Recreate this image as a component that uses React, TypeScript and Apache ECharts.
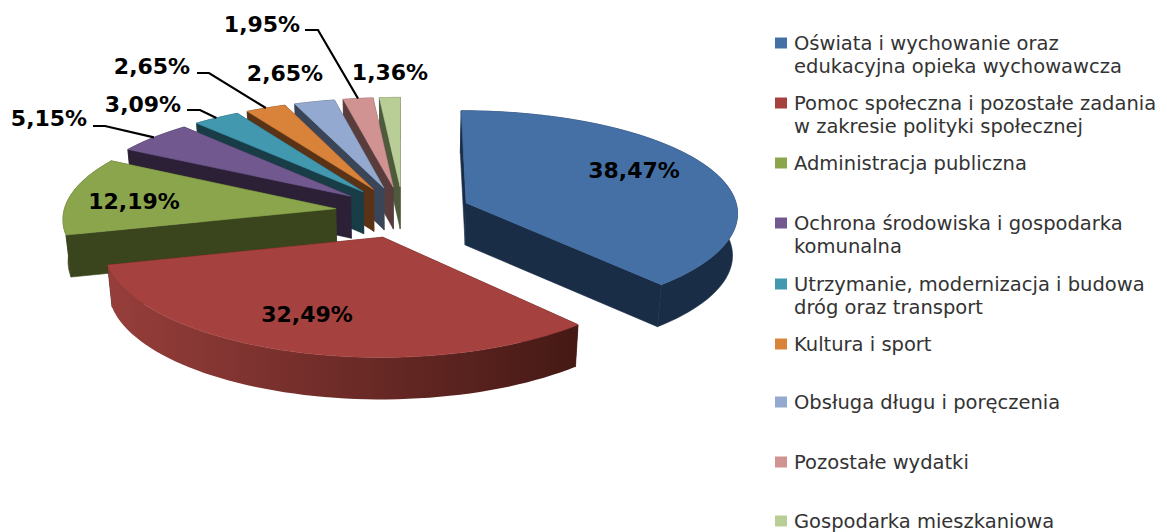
import React, { useEffect, useRef } from "react";
import * as echarts from "echarts";

// ---- data ----
const categories = [
  "Oświata i wychowanie oraz\nedukacyjna opieka wychowawcza",
  "Pomoc społeczna i pozostałe zadania\nw zakresie polityki społecznej",
  "Administracja publiczna",
  "Ochrona środowiska i gospodarka\nkomunalna",
  "Utrzymanie, modernizacja i budowa\ndróg oraz transport",
  "Kultura i sport",
  "Obsługa długu i poręczenia",
  "Pozostałe wydatki",
  "Gospodarka mieszkaniowa",
];
const shares = [38.47, 32.49, 12.19, 5.15, 3.09, 2.65, 2.65, 1.95, 1.36];

// ---- style ----
const topColors = ["#4470A6", "#A5423F", "#8AA54C", "#71588F", "#4198AF", "#D8823A", "#93A9CF", "#D19392", "#B9CD96"];
const wallColors = ["#1A2D47", "#451915", "#3A451D", "#2C2036", "#183D47", "#5A3317", "#3B4558", "#593D3C", "#4E5A3C"];
const wallLightColors = ["#1A2D47", "#973E3B", "#3A451D", "#2C2036", "#183D47", "#5A3317", "#3B4558", "#593D3C", "#4E5A3C"];

// ---- layout: a small perspective model of the exploded pie ----
const CX = 403;
const CY = 212;
const RX = 272;
const RY = 103;
const EXPLODE = 0.25;
const PERSPECTIVE_X = 0.085;
const PERSPECTIVE_Y = 0.0987;
const DEPTH = 42;
const DEPTH_SHRINK = 0.985;
const ARC_STEPS = 90;

// label centre in pixels, and for those with a leader the elbow of the line
const labelCentres = [[634, 170], [307, 314], [134, 201], [49, 118], [143, 104], [152, 66], [285, 73], [262, 24], [390, 72]];
const leaderElbows: (null | number[][])[] = [
  null, null, null,
  [[93, 126], [105, 126]],
  [[187, 110], [200, 110]],
  [[197, 73], [209, 73]],
  null,
  [[305, 30], [318, 30]],
  null,
];
const legendLeft = 775;
const legendFirstLineY = [43, 103, 163, 223, 284, 344, 402, 462, 521];
const LINE_HEIGHT = 23;
const LABEL_FONT = "DejaVu Sans";
const LEGEND_FONT = "DejaVu Sans";

const total = shares.reduce((a, b) => a + b, 0);
const startAngles: number[] = [];
shares.reduce((acc, v, i) => {
  startAngles[i] = acc;
  return acc + (v / total) * Math.PI * 2;
}, 0);
const midAngle = (i: number) => startAngles[i] + (shares[i] / total) * Math.PI;

function project(u: number, v: number): number[] {
  const kx = 1 / (1 - PERSPECTIVE_X * v);
  const ky = 1 / (1 - PERSPECTIVE_Y * v);
  return [CX + RX * u * kx, CY + RY * v * ky];
}
function slicePoint(mid: number, angle: number, r: number): number[] {
  const u = EXPLODE * Math.sin(mid) + r * Math.sin(angle);
  const v = -EXPLODE * Math.cos(mid) - r * Math.cos(angle);
  return project(u, v);
}
const down = (p: number[]) => [CX + (p[0] - CX) * DEPTH_SHRINK, p[1] + DEPTH];

function percentText(v: number): string {
  return v.toFixed(2).replace(".", ",") + "%";
}

function renderSlice(i: number) {
  const a0 = startAngles[i];
  const sweep = (shares[i] / total) * Math.PI * 2;
  const mid = midAngle(i);
  const apex = slicePoint(mid, 0, 0);
  const arc: number[][] = [];
  const steps = Math.max(6, Math.round((ARC_STEPS * sweep) / Math.PI));
  for (let s = 0; s <= steps; s++) {
    arc.push(slicePoint(mid, a0 + (sweep * s) / steps, 1));
  }
  const first = arc[0];
  const last = arc[arc.length - 1];
  const wall = wallColors[i];
  const poly = (points: number[][], fill: any, stroke: string) => ({
    type: "polygon",
    shape: { points },
    style: { fill, stroke, lineWidth: 0.6 },
  });
  const children: any[] = [
    poly([apex, first, down(first), down(apex)], wall, wall),
    poly([apex, last, down(last), down(apex)], wall, wall),
    poly(
      [...arc, ...arc.slice().reverse().map(down)],
      new echarts.graphic.LinearGradient(0, 0, 1, 0, [
        { offset: 0, color: wallLightColors[i] },
        { offset: 1, color: wall },
      ]),
      wall === wallLightColors[i] ? wall : "transparent"
    ),
    poly([apex, ...arc], topColors[i], topColors[i]),
  ];
  const elbow = leaderElbows[i];
  if (elbow) {
    children.push({
      type: "polyline",
      shape: { points: [...elbow, slicePoint(mid, mid, 1)] },
      style: { fill: "none", stroke: "#000", lineWidth: 2.2 },
    });
  }
  children.push({
    type: "text",
    style: {
      text: percentText(shares[i]),
      x: labelCentres[i][0],
      y: labelCentres[i][1],
      align: "center",
      verticalAlign: "middle",
      fill: "#000",
      font: `bold 22px "${LABEL_FONT}"`,
    },
  });
  return { type: "group", children };
}

export default function App() {
  const ref = useRef<HTMLDivElement>(null);
  useEffect(() => {
    const chart = echarts.init(ref.current!, undefined, { renderer: "svg" });
    chart.setOption({
      animation: false,
      backgroundColor: "#fff",
      legend: categories.map((name, i) => {
        const lines = name.split("\n").length;
        // a blank first line puts the icon, centred on the text, beside the first real line
        const boxHeight = LINE_HEIGHT * (lines > 1 ? 3 : 1);
        return {
          data: [name],
          left: legendLeft,
          top: legendFirstLineY[i] - boxHeight / 2,
          padding: 0,
          icon: "rect",
          itemWidth: 12,
          itemHeight: 11,
          itemGap: 0,
          selectedMode: false,
          formatter: (n: string) => (lines > 1 ? "\n" + n : n),
          textStyle: {
            fontFamily: LEGEND_FONT,
            fontSize: 19.5,
            lineHeight: LINE_HEIGHT,
            color: "#333",
            padding: [0, 0, 0, 2],
          },
        };
      }),
      series: categories.map((name, i) => ({
        type: "custom",
        name,
        coordinateSystem: "none",
        silent: true,
        // back slices first, the front ones on top
        z: 5 - Math.cos(midAngle(i)),
        itemStyle: { color: topColors[i] },
        data: [shares[i]],
        renderItem: () => renderSlice(i),
      })),
    });
    return () => chart.dispose();
  }, []);
  return <div ref={ref} style={{ position: "fixed", left: 0, top: 0, width: 1167, height: 532 }} />;
}
